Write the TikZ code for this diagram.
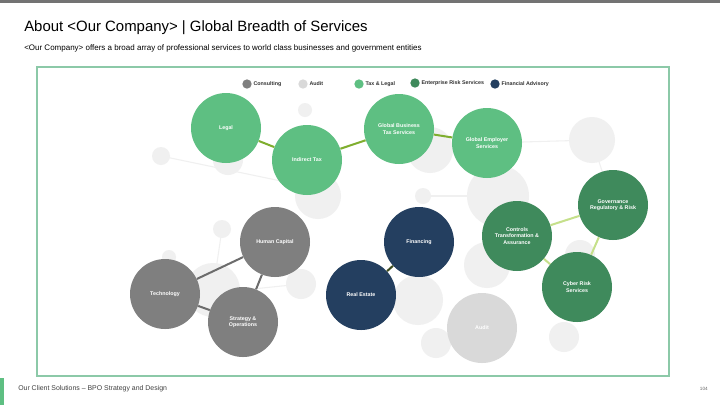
\documentclass[tikz,border=0pt]{standalone}
\usepackage{fontspec}
\setmainfont{Liberation Sans}
\begin{document}
\definecolor{tl}{HTML}{5EBF82}
\definecolor{ers}{HTML}{3F8A5C}
\definecolor{cons}{HTML}{7F7F7F}
\definecolor{fa}{HTML}{243F60}
\definecolor{aud}{HTML}{D9D9D9}
\definecolor{bg}{HTML}{F0F0F0}
\definecolor{frame}{HTML}{8CC9A8}
\definecolor{olive}{HTML}{7FAE2E}
\definecolor{lgreen}{HTML}{C5E08A}
\definecolor{dolive}{HTML}{3C4A1E}
\begin{tikzpicture}[x=0.75pt,y=-0.75pt,
  svc/.style={circle,minimum size=52.5pt,inner sep=0pt,text=white,align=center,font=\fontsize{4}{4.8}\selectfont\bfseries},
  bgc/.style={fill=bg,draw=none},
  bgl/.style={draw=bg,line width=0.8pt},
  leg/.style={circle,minimum size=7pt,inner sep=0pt},
  legt/.style={anchor=west,font=\fontsize{4}{5}\selectfont\bfseries,text=black!80,inner sep=1pt},
  tlink/.style={draw=olive,line width=1.5pt},
  elink/.style={draw=lgreen,line width=1.5pt},
  clink/.style={draw=cons!85!black,line width=1.5pt},
  flink/.style={draw=dolive,line width=1.5pt}]
\useasboundingbox (0,0) rectangle (720,405);
\fill[white] (0,0) rectangle (720,405);
\fill[black!55] (0,0) rectangle (720,3);
\node[anchor=west,inner sep=0pt,font=\fontsize{11.2}{13}\selectfont] (title) at (24,28) {About <Our Company> | Global Breadth of Services};
\node[anchor=west,inner sep=0pt,font=\fontsize{6}{7}\selectfont] (sub) at (24,48) {<Our Company> offers a broad array of professional services to world class businesses and government entities};
\draw[frame,line width=0.8pt] (37,67) rectangle (669,376);
% background
\coordinate (b1) at (161,156); \coordinate (b3) at (592,140); \coordinate (b5) at (423,196); \coordinate (b6) at (498,196);
\draw[bgl] (b1) -- (305,186);
\draw[bgl] (487,143) -- (b3) -- (613,205);
\draw[bgl] (b5) -- (b6);
\draw[bgl] (222,229) -- (213,290);
\draw[bgl] (169,257) -- (213,290);
\draw[bgl] (243,290) -- (301,284);
\fill[bg] (b1) circle (9);
\fill[bg] (228,160) circle (15);
\fill[bg] (305,110) circle (7);
\fill[bg] (318,196) circle (23);
\fill[bg] (430,150) circle (23);
\fill[bg] (b6) circle (31);
\fill[bg] (b5) circle (8);
\fill[bg] (b3) circle (23);
\fill[bg] (222,229) circle (9);
\fill[bg] (169,257) circle (7);
\fill[bg] (213,290) circle (27);
\fill[bg] (301,284) circle (15);
\fill[bg] (418,300) circle (25);
\fill[bg] (487,265) circle (23);
\fill[bg] (436,343) circle (15);
\fill[bg] (564,337) circle (15);
\fill[bg] (580,255) circle (15);
% legend
\node[leg,fill=cons] (l1) at (247,84) {}; \node[legt] at (l1.east) {Consulting};
\node[leg,fill=aud] (l2) at (303,84) {}; \node[legt] at (l2.east) {Audit};
\node[leg,fill=tl] (l3) at (359,84) {}; \node[legt] at (l3.east) {Tax \& Legal};
\node[leg,fill=ers] (l4) at (415,83) {}; \node[legt] at (l4.east) {Enterprise Risk Services};
\node[leg,fill=fa] (l5) at (495,84) {}; \node[legt] at (l5.east) {Financial Advisory};
% services
\node[svc,fill=tl] (legal) at (226,128) {Legal};
\node[svc,fill=tl] (itax) at (307,160) {Indirect Tax};
\node[svc,fill=tl] (gbt) at (399,129) {Global Business\\Tax Services};
\node[svc,fill=tl] (ges) at (487,143) {Global Employer\\Services};
\node[svc,fill=ers] (gov) at (613,205) {Governance\\Regulatory \& Risk};
\node[svc,fill=ers] (ctrl) at (517,236) {Controls\\Transformation \&\\Assurance};
\node[svc,fill=ers] (cyber) at (577,287) {Cyber Risk\\Services};
\node[svc,fill=cons] (hc) at (275,242) {Human Capital};
\node[svc,fill=cons] (tech) at (165,294) {Technology};
\node[svc,fill=cons] (strat) at (243,322) {Strategy \&\\Operations};
\node[svc,fill=fa] (fin) at (419,242) {Financing};
\node[svc,fill=fa] (re) at (361,295) {Real Estate};
\node[svc,fill=aud] (audit) at (482,328) {Audit};
% links
\draw[tlink] (legal) -- (itax);
\draw[tlink] (itax) -- (gbt);
\draw[tlink] (gbt) -- (ges);
\draw[elink] (ctrl) -- (gov);
\draw[elink] (gov) -- (cyber);
\draw[elink] (ctrl) -- (cyber);
\draw[clink] (tech) -- (hc);
\draw[clink] (hc) -- (strat);
\draw[clink] (tech) -- (strat);
\draw[flink] (fin) -- (re);
% footer
\fill[tl] (0,378) rectangle (4,405);
\node[anchor=west,inner sep=0pt,font=\fontsize{5.2}{6}\selectfont,text=black!75] (foot) at (18,389) {Our Client Solutions – BPO Strategy and Design};
\node[anchor=east,inner sep=0pt,font=\fontsize{3.5}{4}\selectfont,text=black!60] (pg) at (708,389) {104};
\end{tikzpicture}
\end{document}
